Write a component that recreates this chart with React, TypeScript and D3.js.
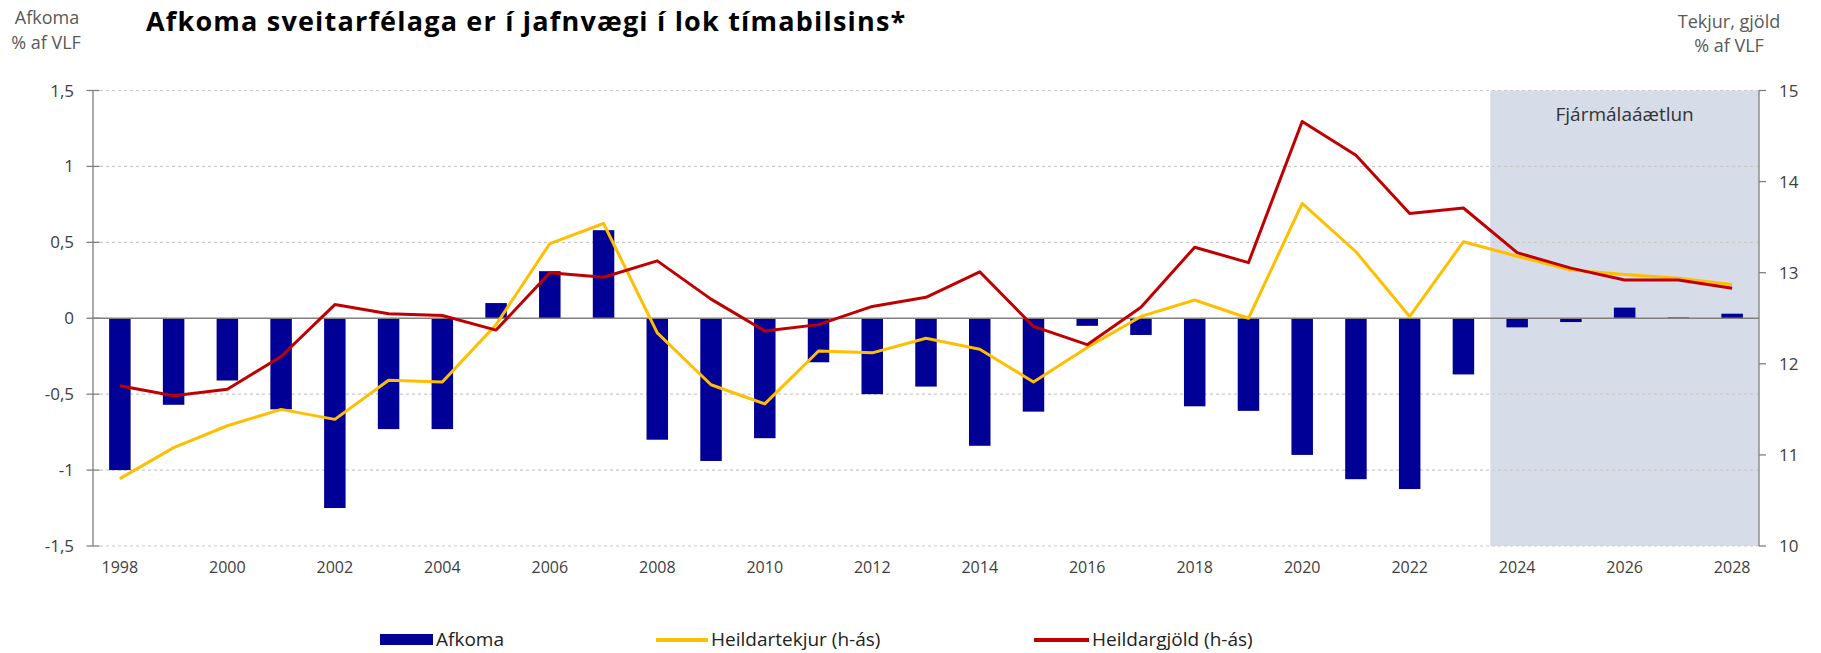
import React from 'react';
import * as d3 from 'd3';

const years = d3.range(1998, 2029);
const afkoma = [-1.0, -0.57, -0.41, -0.6, -1.25, -0.73, -0.73, 0.1, 0.31, 0.58, -0.8, -0.94, -0.79, -0.29, -0.5, -0.45, -0.84, -0.615, -0.05, -0.11, -0.58, -0.61, -0.9, -1.06, -1.125, -0.37, -0.06, -0.025, 0.07, 0.005, 0.03];
const tekjur = [10.74, 11.08, 11.32, 11.5, 11.39, 11.82, 11.8, 12.43, 13.32, 13.54, 12.34, 11.77, 11.56, 12.14, 12.12, 12.28, 12.16, 11.8, 12.18, 12.52, 12.7, 12.5, 13.76, 13.23, 12.52, 13.34, 13.18, 13.03, 12.98, 12.94, 12.87];
const gjold = [11.76, 11.65, 11.72, 12.08, 12.65, 12.55, 12.53, 12.37, 13.0, 12.95, 13.13, 12.71, 12.36, 12.43, 12.63, 12.73, 13.01, 12.41, 12.21, 12.62, 13.28, 13.11, 14.66, 14.29, 13.65, 13.71, 13.22, 13.05, 12.92, 12.92, 12.83];
const leftTicks = [1.5, 1, 0.5, 0, -0.5, -1, -1.5];
const rightTicks = [15, 14, 13, 12, 11, 10];
const forecastStart = 2024;

const W = 1821;
const H = 653;
const left = 93;
const right = 1759;
const top = 90.5;
const bottom = 546;

const font = "'Open Sans', sans-serif";
const navy = '#000096';
const gold = '#ffbf00';
const red = '#c00000';

const fmt = (v: number) => String(v).replace('.', ',');

export default function App() {
  const x = d3.scaleBand<number>().domain(years).range([left, right]).padding(0);
  const yL = d3.scaleLinear().domain([-1.5, 1.5]).range([bottom, top]);
  const yR = d3.scaleLinear().domain([10, 15]).range([bottom, top]);
  const cx = (yr: number) => (x(yr) ?? 0) + x.bandwidth() / 2;
  const barW = x.bandwidth() * 0.4;

  const line = d3.line<number>().x((_, i) => cx(years[i])).y((d) => yR(d));

  return (
    <svg width={W} height={H} style={{ position: 'absolute', left: 0, top: 0, background: '#fff' }}>
      <text x={146} y={31} fontFamily={font} fontWeight={700} fontSize={27} letterSpacing={1.2} fill="#000">
        Afkoma sveitarfélaga er í jafnvægi í lok tímabilsins*
      </text>
      <g fontFamily={font} fontSize={18} fill="#595959" textAnchor="middle">
        <text x={47} y={24}>Afkoma</text>
        <text x={46} y={49}>% af VLF</text>
        <text x={1729} y={28}>Tekjur, gjöld</text>
        <text x={1729} y={52}>% af VLF</text>
      </g>

      {/* forecast shading */}
      <rect x={x(forecastStart)} y={top} width={right - (x(forecastStart) ?? 0)} height={bottom - top} fill="#d6dce8" />
      <text x={((x(forecastStart) ?? 0) + right) / 2} y={121} textAnchor="middle" fontFamily={font} fontSize={19} fill="#333">
        Fjármálaáætlun
      </text>

      {/* gridlines */}
      {leftTicks.filter((t) => t !== 0).map((t) => (
        <line key={t} x1={left + 7} x2={right} y1={yL(t)} y2={yL(t)} stroke="#c9c9c9" strokeWidth={1.2} strokeDasharray="3 3" />
      ))}

      {/* bars */}
      {afkoma.map((v, i) => (
        <rect key={years[i]} x={cx(years[i]) - barW / 2} y={yL(Math.max(0, v))} width={barW} height={Math.abs(yL(v) - yL(0))} fill={navy} />
      ))}

      <line x1={left} x2={right} y1={yL(0)} y2={yL(0)} stroke="#7f7f7f" strokeWidth={1.5} />

      <path d={line(tekjur) ?? ''} fill="none" stroke={gold} strokeWidth={3} strokeLinejoin="round" />
      <path d={line(gjold) ?? ''} fill="none" stroke={red} strokeWidth={3} strokeLinejoin="round" />

      {/* left axis */}
      <line x1={left} x2={left} y1={top} y2={bottom} stroke="#7f7f7f" strokeWidth={1.3} />
      {leftTicks.map((t) => (
        <g key={t}>
          <line x1={left - 6.5} x2={left + 6.5} y1={yL(t)} y2={yL(t)} stroke="#7f7f7f" strokeWidth={1.3} />
          <text x={74} y={yL(t) + 6} textAnchor="end" fontFamily={font} fontSize={17} fill="#404040">{fmt(t)}</text>
        </g>
      ))}

      {/* right axis */}
      <line x1={right} x2={right} y1={top} y2={bottom} stroke="#7f7f7f" strokeWidth={1.3} />
      {rightTicks.map((t) => (
        <g key={t}>
          <line x1={right} x2={right + 7} y1={yR(t)} y2={yR(t)} stroke="#7f7f7f" strokeWidth={1.3} />
          <text x={1779} y={yR(t) + 6} fontFamily={font} fontSize={17} fill="#404040">{t}</text>
        </g>
      ))}

      {/* x labels */}
      {years.filter((yr) => (yr - 1998) % 2 === 0).map((yr) => (
        <text key={yr} x={cx(yr)} y={573} textAnchor="middle" fontFamily={font} fontSize={16} fill="#404040">{yr}</text>
      ))}

      {/* legend */}
      <g fontFamily={font} fontSize={19} fill="#222">
        <rect x={380} y={634} width={53} height={11} fill={navy} />
        <text x={436} y={646}>Afkoma</text>
        <line x1={656} x2={708} y1={640} y2={640} stroke={gold} strokeWidth={4} />
        <text x={711} y={646}>Heildartekjur (h-ás)</text>
        <line x1={1034} x2={1089} y1={640} y2={640} stroke={red} strokeWidth={4} />
        <text x={1092} y={646}>Heildargjöld (h-ás)</text>
      </g>
    </svg>
  );
}
